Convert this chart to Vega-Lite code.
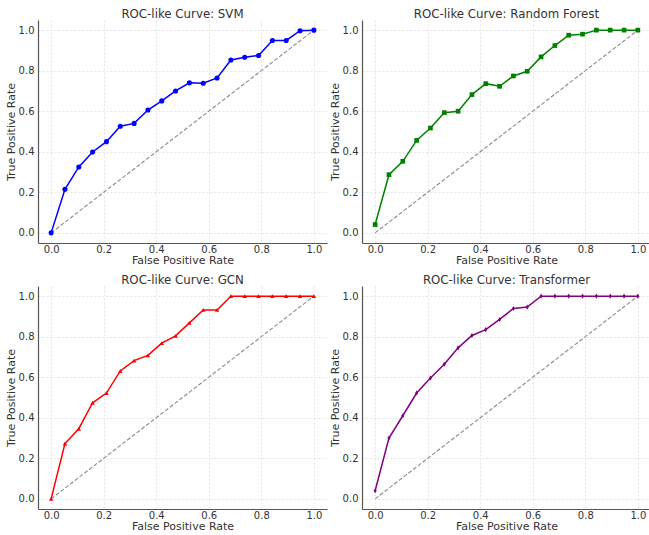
{
  "$schema": "https://vega.github.io/schema/vega-lite/v6.json",
  "padding": {"left": 5, "top": 8, "right": 0, "bottom": 0},
  "background": "white",
  "datasets": {
    "diag": [{"fpr": 0, "tpr": 0}, {"fpr": 1, "tpr": 1}],
    "roc": [
      {"model": "SVM", "fpr": 0, "tpr": 0},
      {"model": "SVM", "fpr": 0.0526, "tpr": 0.215},
      {"model": "SVM", "fpr": 0.1053, "tpr": 0.325},
      {"model": "SVM", "fpr": 0.1579, "tpr": 0.399},
      {"model": "SVM", "fpr": 0.2105, "tpr": 0.45},
      {"model": "SVM", "fpr": 0.2632, "tpr": 0.526},
      {"model": "SVM", "fpr": 0.3158, "tpr": 0.54},
      {"model": "SVM", "fpr": 0.3684, "tpr": 0.606},
      {"model": "SVM", "fpr": 0.4211, "tpr": 0.651},
      {"model": "SVM", "fpr": 0.4737, "tpr": 0.70},
      {"model": "SVM", "fpr": 0.5263, "tpr": 0.74},
      {"model": "SVM", "fpr": 0.5789, "tpr": 0.738},
      {"model": "SVM", "fpr": 0.6316, "tpr": 0.764},
      {"model": "SVM", "fpr": 0.6842, "tpr": 0.853},
      {"model": "SVM", "fpr": 0.7368, "tpr": 0.866},
      {"model": "SVM", "fpr": 0.7895, "tpr": 0.875},
      {"model": "SVM", "fpr": 0.8421, "tpr": 0.949},
      {"model": "SVM", "fpr": 0.8947, "tpr": 0.949},
      {"model": "SVM", "fpr": 0.9474, "tpr": 0.997},
      {"model": "SVM", "fpr": 1, "tpr": 1.0},
      {"model": "RF", "fpr": 0, "tpr": 0.041},
      {"model": "RF", "fpr": 0.0526, "tpr": 0.287},
      {"model": "RF", "fpr": 0.1053, "tpr": 0.353},
      {"model": "RF", "fpr": 0.1579, "tpr": 0.456},
      {"model": "RF", "fpr": 0.2105, "tpr": 0.517},
      {"model": "RF", "fpr": 0.2632, "tpr": 0.593},
      {"model": "RF", "fpr": 0.3158, "tpr": 0.60},
      {"model": "RF", "fpr": 0.3684, "tpr": 0.682},
      {"model": "RF", "fpr": 0.4211, "tpr": 0.736},
      {"model": "RF", "fpr": 0.4737, "tpr": 0.723},
      {"model": "RF", "fpr": 0.5263, "tpr": 0.774},
      {"model": "RF", "fpr": 0.5789, "tpr": 0.797},
      {"model": "RF", "fpr": 0.6316, "tpr": 0.868},
      {"model": "RF", "fpr": 0.6842, "tpr": 0.924},
      {"model": "RF", "fpr": 0.7368, "tpr": 0.975},
      {"model": "RF", "fpr": 0.7895, "tpr": 0.98},
      {"model": "RF", "fpr": 0.8421, "tpr": 1.0},
      {"model": "RF", "fpr": 0.8947, "tpr": 1.0},
      {"model": "RF", "fpr": 0.9474, "tpr": 1.0},
      {"model": "RF", "fpr": 1, "tpr": 1.0},
      {"model": "GCN", "fpr": 0, "tpr": 0},
      {"model": "GCN", "fpr": 0.0526, "tpr": 0.273},
      {"model": "GCN", "fpr": 0.1053, "tpr": 0.346},
      {"model": "GCN", "fpr": 0.1579, "tpr": 0.474},
      {"model": "GCN", "fpr": 0.2105, "tpr": 0.522},
      {"model": "GCN", "fpr": 0.2632, "tpr": 0.631},
      {"model": "GCN", "fpr": 0.3158, "tpr": 0.682},
      {"model": "GCN", "fpr": 0.3684, "tpr": 0.708},
      {"model": "GCN", "fpr": 0.4211, "tpr": 0.768},
      {"model": "GCN", "fpr": 0.4737, "tpr": 0.804},
      {"model": "GCN", "fpr": 0.5263, "tpr": 0.868},
      {"model": "GCN", "fpr": 0.5789, "tpr": 0.932},
      {"model": "GCN", "fpr": 0.6316, "tpr": 0.932},
      {"model": "GCN", "fpr": 0.6842, "tpr": 1.0},
      {"model": "GCN", "fpr": 0.7368, "tpr": 1.0},
      {"model": "GCN", "fpr": 0.7895, "tpr": 1.0},
      {"model": "GCN", "fpr": 0.8421, "tpr": 1.0},
      {"model": "GCN", "fpr": 0.8947, "tpr": 1.0},
      {"model": "GCN", "fpr": 0.9474, "tpr": 1.0},
      {"model": "GCN", "fpr": 1, "tpr": 1.0},
      {"model": "Transformer", "fpr": 0, "tpr": 0.04},
      {"model": "Transformer", "fpr": 0.0526, "tpr": 0.30},
      {"model": "Transformer", "fpr": 0.1053, "tpr": 0.41},
      {"model": "Transformer", "fpr": 0.1579, "tpr": 0.522},
      {"model": "Transformer", "fpr": 0.2105, "tpr": 0.596},
      {"model": "Transformer", "fpr": 0.2632, "tpr": 0.664},
      {"model": "Transformer", "fpr": 0.3158, "tpr": 0.745},
      {"model": "Transformer", "fpr": 0.3684, "tpr": 0.806},
      {"model": "Transformer", "fpr": 0.4211, "tpr": 0.835},
      {"model": "Transformer", "fpr": 0.4737, "tpr": 0.885},
      {"model": "Transformer", "fpr": 0.5263, "tpr": 0.939},
      {"model": "Transformer", "fpr": 0.5789, "tpr": 0.946},
      {"model": "Transformer", "fpr": 0.6316, "tpr": 1.0},
      {"model": "Transformer", "fpr": 0.6842, "tpr": 1.0},
      {"model": "Transformer", "fpr": 0.7368, "tpr": 1.0},
      {"model": "Transformer", "fpr": 0.7895, "tpr": 1.0},
      {"model": "Transformer", "fpr": 0.8421, "tpr": 1.0},
      {"model": "Transformer", "fpr": 0.8947, "tpr": 1.0},
      {"model": "Transformer", "fpr": 0.9474, "tpr": 1.0},
      {"model": "Transformer", "fpr": 1, "tpr": 1.0}
    ]
  },
  "columns": 2,
  "spacing": {"column": 2, "row": 8},
  "concat": [
    {
      "width": 289, "height": 223,
      "title": "ROC-like Curve: SVM",
      "layer": [
        {"data": {"name": "diag"}, "mark": {"type": "line", "color": "#8a8a8a", "strokeDash": [4, 2], "strokeWidth": 1.1},
         "encoding": {"x": {"field": "fpr", "type": "quantitative"}, "y": {"field": "tpr", "type": "quantitative"}}},
        {"data": {"name": "roc"}, "transform": [{"filter": "datum.model === 'SVM'"}],
         "mark": {"type": "line", "color": "#0000ff", "strokeWidth": 1.5, "point": {"shape": "circle", "size": 26, "filled": true, "color": "#0000ff", "opacity": 1}},
         "encoding": {
           "x": {"field": "fpr", "type": "quantitative", "title": "False Positive Rate", "scale": {"domain": [-0.05, 1.05], "nice": false, "zero": false}, "axis": {"values": [0, 0.2, 0.4, 0.6, 0.8, 1.0], "format": ".1f", "labelPadding": 1, "titlePadding": 0.5}},
           "y": {"field": "tpr", "type": "quantitative", "title": "True Positive Rate", "scale": {"domain": [-0.05, 1.05], "nice": false, "zero": false}, "axis": {"values": [0, 0.2, 0.4, 0.6, 0.8, 1.0], "format": ".1f"}}
         }}
      ]
    },
    {
      "width": 289, "height": 223,
      "title": "ROC-like Curve: Random Forest",
      "layer": [
        {"data": {"name": "diag"}, "mark": {"type": "line", "color": "#8a8a8a", "strokeDash": [4, 2], "strokeWidth": 1.1},
         "encoding": {"x": {"field": "fpr", "type": "quantitative"}, "y": {"field": "tpr", "type": "quantitative"}}},
        {"data": {"name": "roc"}, "transform": [{"filter": "datum.model === 'RF'"}],
         "mark": {"type": "line", "color": "#008000", "strokeWidth": 1.5, "point": {"shape": "square", "size": 22, "filled": true, "color": "#008000", "opacity": 1}},
         "encoding": {
           "x": {"field": "fpr", "type": "quantitative", "title": "False Positive Rate", "scale": {"domain": [-0.05, 1.05], "nice": false, "zero": false}, "axis": {"values": [0, 0.2, 0.4, 0.6, 0.8, 1.0], "format": ".1f", "labelPadding": 1, "titlePadding": 0.5}},
           "y": {"field": "tpr", "type": "quantitative", "title": "True Positive Rate", "scale": {"domain": [-0.05, 1.05], "nice": false, "zero": false}, "axis": {"values": [0, 0.2, 0.4, 0.6, 0.8, 1.0], "format": ".1f"}}
         }}
      ]
    },
    {
      "width": 289, "height": 223,
      "title": "ROC-like Curve: GCN",
      "layer": [
        {"data": {"name": "diag"}, "mark": {"type": "line", "color": "#8a8a8a", "strokeDash": [4, 2], "strokeWidth": 1.1},
         "encoding": {"x": {"field": "fpr", "type": "quantitative"}, "y": {"field": "tpr", "type": "quantitative"}}},
        {"data": {"name": "roc"}, "transform": [{"filter": "datum.model === 'GCN'"}],
         "mark": {"type": "line", "color": "#ff0000", "strokeWidth": 1.5, "point": {"shape": "triangle-up", "size": 20, "filled": true, "color": "#ff0000", "opacity": 1}},
         "encoding": {
           "x": {"field": "fpr", "type": "quantitative", "title": "False Positive Rate", "scale": {"domain": [-0.05, 1.05], "nice": false, "zero": false}, "axis": {"values": [0, 0.2, 0.4, 0.6, 0.8, 1.0], "format": ".1f", "labelPadding": 1, "titlePadding": 0.5}},
           "y": {"field": "tpr", "type": "quantitative", "title": "True Positive Rate", "scale": {"domain": [-0.05, 1.05], "nice": false, "zero": false}, "axis": {"values": [0, 0.2, 0.4, 0.6, 0.8, 1.0], "format": ".1f"}}
         }}
      ]
    },
    {
      "width": 289, "height": 223,
      "title": "ROC-like Curve: Transformer",
      "layer": [
        {"data": {"name": "diag"}, "mark": {"type": "line", "color": "#8a8a8a", "strokeDash": [4, 2], "strokeWidth": 1.1},
         "encoding": {"x": {"field": "fpr", "type": "quantitative"}, "y": {"field": "tpr", "type": "quantitative"}}},
        {"data": {"name": "roc"}, "transform": [{"filter": "datum.model === 'Transformer'"}],
         "mark": {"type": "line", "color": "#800080", "strokeWidth": 1.5, "point": {"shape": "M0,-1L0.6,0L0,1L-0.6,0Z", "size": 26, "filled": true, "color": "#800080", "opacity": 1}},
         "encoding": {
           "x": {"field": "fpr", "type": "quantitative", "title": "False Positive Rate", "scale": {"domain": [-0.05, 1.05], "nice": false, "zero": false}, "axis": {"values": [0, 0.2, 0.4, 0.6, 0.8, 1.0], "format": ".1f", "labelPadding": 1, "titlePadding": 0.5}},
           "y": {"field": "tpr", "type": "quantitative", "title": "True Positive Rate", "scale": {"domain": [-0.05, 1.05], "nice": false, "zero": false}, "axis": {"values": [0, 0.2, 0.4, 0.6, 0.8, 1.0], "format": ".1f"}}
         }}
      ]
    }
  ],
  "config": {
    "font": "DejaVu Sans",
    "view": {"stroke": null},
    "title": {"fontSize": 11.8, "fontWeight": "normal", "color": "#333333", "offset": -0.5, "font": "DejaVu Sans"},
    "axis": {
      "labelFont": "DejaVu Sans", "titleFont": "DejaVu Sans",
      "labelFontSize": 10, "titleFontSize": 11, "titleFontWeight": "normal",
      "labelColor": "#333333", "titleColor": "#333333",
      "domainColor": "#555555", "domainWidth": 1.2,
      "ticks": false, "labelPadding": 4, "titlePadding": 2,
      "gridColor": "#dddddd", "gridDash": [2, 2], "gridWidth": 0.8
    }
  }
}
